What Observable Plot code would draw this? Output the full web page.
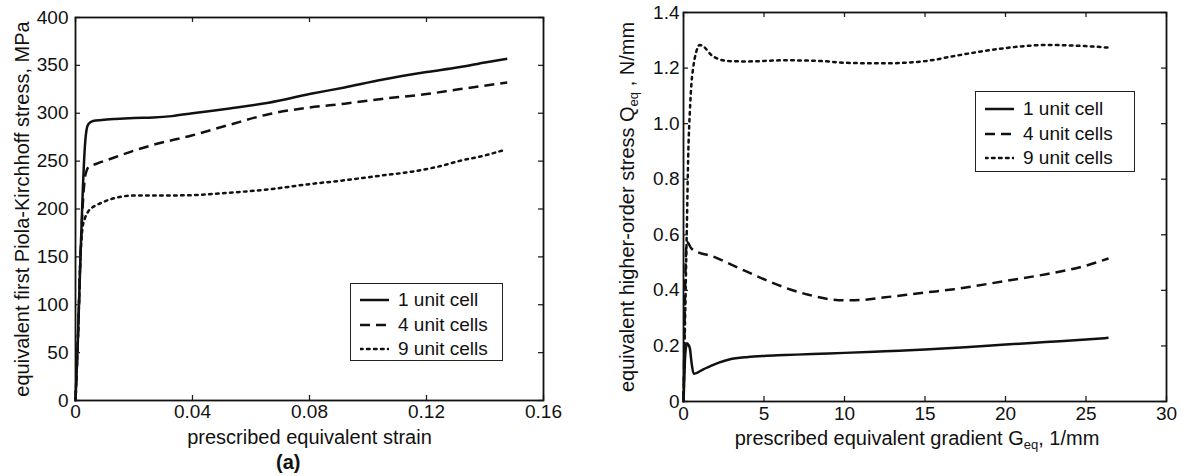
<!DOCTYPE html>
<html><head><meta charset="utf-8">
<script src="https://cdn.jsdelivr.net/npm/d3@7"></script>
<script src="https://cdn.jsdelivr.net/npm/@observablehq/plot@0.6"></script>
<style>
body{margin:0;background:#fff;}
#wrap{position:relative;width:1187px;height:476px;overflow:hidden;background:#fff;font-family:"Liberation Sans",Arial,Helvetica,sans-serif;color:#111;}
.panel{position:absolute;top:0;}
.legend{position:absolute;border:1.6px solid #222;background:#fff;box-sizing:border-box;}
.row{position:absolute;left:0;height:24px;display:flex;align-items:center;font-size:19px;white-space:nowrap;}
.row svg{margin-right:9px;}
#cap{position:absolute;font-size:20px;font-weight:bold;}
</style></head>
<body>
<div id="wrap"></div>
<script>
// ---------- data: panel (a) ----------
const seriesNames = ["1 unit cell", "4 unit cells", "9 unit cells"];
const strain1 = [0, 0.0008, 0.0017, 0.0025, 0.0032, 0.0038, 0.0045, 0.006, 0.009, 0.0135, 0.02, 0.0266, 0.033, 0.04, 0.0527, 0.066, 0.08, 0.092, 0.1047, 0.12, 0.131, 0.14, 0.1476];
const stress1 = [0, 62, 150, 220, 265, 283, 289, 292, 293, 294, 295, 295.5, 297, 300, 305, 311, 320, 327, 335, 343, 348, 353, 357];
const strain4 = [0, 0.0008, 0.0017, 0.0025, 0.0032, 0.0038, 0.0045, 0.007, 0.0135, 0.02, 0.0266, 0.04, 0.0527, 0.066, 0.08, 0.092, 0.1047, 0.12, 0.131, 0.1476];
const stress4 = [0, 62, 150, 205, 232, 240, 244, 247, 254, 261, 267, 277, 288, 299, 306, 310, 315, 320, 325, 332];
const strain9 = [0, 0.0008, 0.0017, 0.0024, 0.0033, 0.0045, 0.0065, 0.0085, 0.0135, 0.02, 0.0266, 0.04, 0.0527, 0.066, 0.08, 0.092, 0.1047, 0.115, 0.125, 0.131, 0.14, 0.147];
const stress9 = [0, 62, 150, 180, 191, 198, 203, 206, 211.5, 214, 214, 214.5, 217, 220.5, 226, 230, 235, 239, 245, 250, 256, 262];
const strainTicks = [0, 0.04, 0.08, 0.12, 0.16];
const stressTicks = [0, 50, 100, 150, 200, 250, 300, 350, 400];

// ---------- data: panel (b) ----------
const grad1 = [0, 0.05, 0.1, 0.2, 0.3, 0.4, 0.5, 0.63, 0.8, 1.2, 1.67, 2.2, 2.84, 4, 5, 6.3, 8, 10, 12.5, 15, 17.5, 20, 22.5, 25, 26.4];
const hos1 = [0, 0.08, 0.16, 0.21, 0.205, 0.19, 0.14, 0.1, 0.102, 0.115, 0.127, 0.14, 0.151, 0.16, 0.164, 0.167, 0.171, 0.175, 0.181, 0.187, 0.195, 0.205, 0.214, 0.223, 0.229];
const grad4 = [0, 0.05, 0.1, 0.15, 0.2, 0.5, 1, 1.67, 3.07, 5, 6.3, 7.7, 9.1, 10, 11, 12.4, 15, 16.8, 20, 22.6, 25, 26.4];
const hos4 = [0, 0.2, 0.4, 0.53, 0.575, 0.55, 0.535, 0.525, 0.49, 0.44, 0.41, 0.385, 0.368, 0.364, 0.365, 0.374, 0.392, 0.404, 0.434, 0.459, 0.489, 0.515];
const grad9 = [0, 0.05, 0.1, 0.2, 0.3, 0.4, 0.5, 0.6, 0.8, 1.0, 1.3, 1.67, 2.2, 2.84, 4, 6.3, 8.65, 10, 12.4, 15, 16.8, 18.5, 20, 22.6, 25, 26.5];
const hos9 = [0, 0.15, 0.3, 0.6, 0.9, 1.05, 1.15, 1.2, 1.26, 1.283, 1.275, 1.25, 1.232, 1.225, 1.224, 1.228, 1.225, 1.219, 1.217, 1.225, 1.243, 1.26, 1.272, 1.283, 1.279, 1.273];
const gradTicks = [0, 5, 10, 15, 20, 25, 30];
const hosTicks = [0, 0.2, 0.4, 0.6, 0.8, 1.0, 1.2, 1.4];

const dashes = ["none", "10,6", "2.6,4.4"];
const FONT = '"Liberation Sans", Arial, Helvetica, sans-serif';
const zip = (xs, ys) => xs.map((x, i) => ({x, y: ys[i]}));

function panel({width, height, ml, mr, mt, mb, xDomain, yDomain, xTicks, yTicks, xFmt, yFmt, series, xTitle, yTitle, yTitleDx, xTitleDx, yPad, xPad}) {
  const fw = width - ml - mr, fh = height - mt - mb, T = 5;
  const marks = [];
  series.forEach((s, i) => marks.push(Plot.line(s, {x: "x", y: "y", curve: "monotone-x", stroke: "#111", strokeWidth: 2.5, strokeDasharray: dashes[i], strokeLinecap: i === 2 ? "round" : "butt"})));
  marks.push(
    Plot.tickX(xTicks, {x: d => d, stroke: "#222", strokeWidth: 1.3, insetTop: fh - T}),
    Plot.tickX(xTicks, {x: d => d, stroke: "#222", strokeWidth: 1.3, insetBottom: fh - T}),
    Plot.tickY(yTicks, {y: d => d, stroke: "#222", strokeWidth: 1.3, insetRight: fw - T}),
    Plot.tickY(yTicks, {y: d => d, stroke: "#222", strokeWidth: 1.3, insetLeft: fw - T}),
    Plot.frame({stroke: "#111", strokeWidth: 1.8}),
    Plot.axisX(xTicks, {tickSize: 0, tickPadding: xPad, tickFormat: xFmt, label: null, fontSize: 19}),
    Plot.axisY(yTicks, {tickSize: 0, tickPadding: yPad, tickFormat: yFmt, label: null, fontSize: 19}),
    Plot.text([xTitle], {text: d => d, frameAnchor: "bottom", dy: 37, dx: xTitleDx, lineAnchor: "middle", fontSize: 20}),
    Plot.text([yTitle], {text: d => d, frameAnchor: "left", rotate: -90, dx: yTitleDx, lineAnchor: "middle", textAnchor: "middle", fontSize: 20})
  );
  return Plot.plot({
    width, height, marginLeft: ml, marginRight: mr, marginTop: mt, marginBottom: mb,
    x: {domain: xDomain}, y: {domain: yDomain},
    style: {fontFamily: FONT, fontSize: "19px", color: "#111", background: "transparent", overflow: "visible"},
    marks
  });
}

const wrap = document.getElementById("wrap");

const pa = panel({
  width: 600, height: 476, ml: 75, mr: 57, mt: 17, mb: 76,
  xDomain: [0, 0.16], yDomain: [0, 400], xTicks: strainTicks, yTicks: stressTicks,
  xFmt: d => d === 0 ? "0" : String(d), yFmt: d => String(d),
  series: [zip(strain1, stress1), zip(strain4, stress4), zip(strain9, stress9)],
  xTitle: "prescribed equivalent strain", yTitle: "equivalent first Piola-Kirchhoff stress, MPa",
  yTitleDx: -53, xTitleDx: 0, yPad: 7, xPad: 4
});
pa.classList.add("panel"); pa.style.left = "0px";
wrap.appendChild(pa);

const pb = panel({
  width: 587, height: 476, ml: 83, mr: 21, mt: 12, mb: 75,
  xDomain: [0, 30], yDomain: [0, 1.4], xTicks: gradTicks, yTicks: hosTicks,
  xFmt: d => String(d), yFmt: d => d === 0 ? "0" : d.toFixed(1),
  series: [zip(grad1, hos1), zip(grad4, hos4), zip(grad9, hos9)],
  xTitle: "prescribed equivalent gradient G_eq, 1/mm", yTitle: "equivalent higher-order stress Q_eq , N/mm",
  yTitleDx: -56, xTitleDx: -8, yPad: 4, xPad: 5
});
pb.classList.add("panel"); pb.style.left = "600px";
wrap.appendChild(pb);

// subscripts
document.querySelectorAll("#wrap text").forEach(t => {
  const s = t.textContent;
  if (s.includes("G_eq")) t.innerHTML = 'prescribed equivalent gradient G<tspan dy="4" font-size="13">eq</tspan><tspan dy="-4">, 1/mm</tspan>';
  if (s.includes("Q_eq")) t.innerHTML = 'equivalent higher-order stress Q<tspan dy="4" font-size="13">eq</tspan><tspan dy="-4"> , N/mm</tspan>';
});

// legends
function legend(left, top, w, h, rowYs) {
  const box = document.createElement("div");
  box.className = "legend";
  Object.assign(box.style, {left: left + "px", top: top + "px", width: w + "px", height: h + "px"});
  seriesNames.forEach((name, i) => {
    const r = document.createElement("div");
    r.className = "row";
    r.style.top = (rowYs[i] - top - 12) + "px";
    r.style.left = "9px";
    r.innerHTML = `<svg width="29" height="6"><line x1="0" x2="29" y1="3" y2="3" stroke="#111" stroke-width="2.5" stroke-dasharray="${dashes[i]}" stroke-linecap="${i === 2 ? "round" : "butt"}"/></svg><span>${name}</span>`;
    box.appendChild(r);
  });
  wrap.appendChild(box);
}
legend(350, 283, 153, 78, [299, 324, 348]);
legend(975, 91, 160, 81, [108, 133, 157]);

const cap = document.createElement("div");
cap.id = "cap"; cap.textContent = "(a)";
Object.assign(cap.style, {left: "276px", top: "451px"});
wrap.appendChild(cap);
</script>
</body></html>
